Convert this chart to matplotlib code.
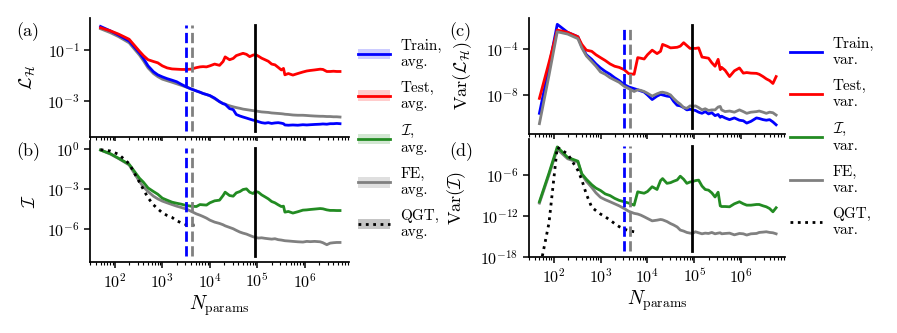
import numpy as np
import matplotlib
matplotlib.use('Agg')
import matplotlib.pyplot as plt
from matplotlib.lines import Line2D
from matplotlib.patches import Patch
from matplotlib.ticker import LogLocator, NullLocator, NullFormatter

plt.rcParams['font.family'] = 'serif'
plt.rcParams['font.serif'] = ['cmr10']
plt.rcParams['mathtext.fontset'] = 'cm'
plt.rcParams['axes.formatter.use_mathtext'] = True
plt.rcParams['font.size'] = 11

# number of parameters (shared x grid)
n_params = [50, 80, 120, 200, 330, 400, 500, 650, 800, 1000, 1260, 1600, 2000, 2500,
            3200, 4000, 5200, 6200, 7200, 8500, 1.0e4, 1.26e4, 1.6e4, 1.9e4, 2.1e4,
            2.6e4, 3.1e4, 3.6e4, 4.3e4, 5.0e4, 5.9e4, 6.9e4, 8.1e4, 9.1e4, 1.05e5,
            1.23e5, 1.45e5, 1.7e5, 2.0e5, 2.35e5, 2.75e5, 3.2e5, 3.55e5, 3.8e5, 4.5e5,
            5.6e5, 7.1e5, 9.1e5, 1.1e6, 1.3e6, 1.6e6, 2.1e6, 2.4e6, 2.9e6, 3.4e6,
            4.0e6, 4.7e6, 5.5e6]
n_qgt = n_params[:17]

# vertical markers
n_train_dash = 3200
n_fe_dash = 4300
n_black = 9.0e4

# values read as log10 exponents
# (a) loss averages
train_avg = [-0.08, -0.25, -0.42, -0.65, -1.12, -1.33, -1.62, -1.85, -1.97, -2.05, -2.12, -2.18,
             -2.24, -2.34, -2.44, -2.52, -2.60, -2.65, -2.70, -2.74, -2.78, -2.88, -3.02, -3.10,
             -3.12, -3.29, -3.33, -3.52, -3.58, -3.62, -3.66, -3.70, -3.74, -3.76, -3.80, -3.84,
             -3.86, -3.84, -3.87, -3.85, -3.84, -3.86, -3.88, -3.93, -3.94, -3.93, -3.94, -3.92,
             -3.93, -3.92, -3.91, -3.90, -3.89, -3.90, -3.88, -3.88, -3.87, -3.88]
test_avg = [-0.13, -0.25, -0.38, -0.58, -1.05, -1.22, -1.38, -1.45, -1.50, -1.62, -1.70, -1.74,
            -1.75, -1.76, -1.76, -1.75, -1.69, -1.66, -1.65, -1.66, -1.62, -1.55, -1.60, -1.45,
            -1.27, -1.38, -1.33, -1.22, -1.17, -1.13, -1.17, -1.26, -1.20, -1.18, -1.24, -1.32,
            -1.38, -1.44, -1.55, -1.58, -1.68, -1.78, -1.72, -1.97, -1.92, -1.98, -1.92, -1.86,
            -1.82, -1.80, -1.78, -1.75, -1.76, -1.84, -1.84, -1.83, -1.84, -1.84]
fe_loss_avg = [-0.17, -0.32, -0.48, -0.72, -1.20, -1.42, -1.70, -1.92, -2.04, -2.14, -2.20, -2.26,
               -2.32, -2.38, -2.45, -2.52, -2.60, -2.65, -2.70, -2.74, -2.79, -2.90, -3.02, -3.09,
               -3.12, -3.18, -3.22, -3.25, -3.28, -3.31, -3.33, -3.35, -3.37, -3.38, -3.40, -3.42,
               -3.43, -3.44, -3.46, -3.47, -3.48, -3.49, -3.50, -3.51, -3.52, -3.54, -3.55, -3.55,
               -3.56, -3.57, -3.58, -3.59, -3.59, -3.60, -3.60, -3.61, -3.61, -3.62]

# (b) I averages
info_avg = [-0.08, -0.35, -0.70, -1.15, -2.20, -2.50, -2.93, -3.20, -3.40, -3.70, -3.85, -4.00,
            -4.08, -4.15, -4.25, -4.30, -4.33, -4.18, -4.20, -4.22, -4.05, -3.90, -3.85, -3.50,
            -3.25, -3.50, -3.55, -3.30, -3.20, -3.05, -3.00, -3.25, -3.35, -3.20, -3.25, -3.45,
            -3.60, -3.75, -3.95, -4.05, -4.20, -4.33, -4.30, -4.75, -4.70, -4.82, -4.72, -4.60,
            -4.58, -4.55, -4.52, -4.48, -4.50, -4.58, -4.62, -4.62, -4.63, -4.63]
fe_info_avg = [-0.08, -0.38, -0.72, -1.20, -2.45, -2.85, -3.20, -3.55, -3.75, -3.92, -4.05, -4.18,
               -4.30, -4.40, -4.52, -4.68, -4.88, -4.98, -5.08, -5.20, -5.35, -5.50, -5.60, -5.70,
               -5.78, -5.90, -6.00, -6.12, -6.25, -6.33, -6.40, -6.50, -6.60, -6.65, -6.70, -6.68,
               -6.72, -6.75, -6.78, -6.75, -6.82, -6.85, -6.88, -6.90, -6.92, -6.95, -6.98, -7.00,
               -6.95, -6.97, -6.95, -6.98, -7.05, -7.20, -7.08, -7.05, -7.03, -7.03]
qgt_avg = [-0.05, -0.15, -0.40, -1.10, -2.50, -3.05, -3.67, -4.20, -4.50, -4.80, -5.00, -5.15,
           -5.40, -5.55, -5.70, -5.75, -5.70]

# (c) loss variances
train_var = [-9.6, -5.55, -1.85, -2.55, -2.93, -3.80, -4.50, -4.90, -5.30, -5.65, -5.95, -6.20,
             -6.50, -6.75, -7.10, -7.30, -7.45, -7.55, -7.65, -7.75, -8.00, -8.40, -8.10, -7.95,
             -8.00, -8.10, -8.15, -8.55, -8.90, -8.95, -9.10, -9.30, -9.25, -9.30, -9.35, -9.50,
             -9.60, -9.45, -9.65, -9.55, -9.80, -9.70, -9.95, -9.85, -10.0, -10.15, -10.0, -10.2,
             -10.25, -10.45, -10.3, -10.0, -10.05, -10.15, -10.2, -10.15, -10.35, -10.6]
test_var = [-8.3, -5.17, -2.35, -2.55, -2.93, -3.60, -4.10, -4.20, -4.50, -4.75, -5.00, -5.30,
            -5.50, -5.60, -5.80, -6.15, -6.20, -4.75, -4.80, -4.87, -4.50, -4.10, -4.40, -4.20,
            -3.60, -3.75, -3.90, -3.88, -3.85, -3.75, -3.45, -3.70, -3.95, -3.93, -3.95, -3.90,
            -4.70, -4.75, -4.80, -5.20, -5.50, -4.90, -5.80, -5.60, -5.85, -6.40, -5.90, -5.65,
            -6.10, -6.05, -6.10, -6.12, -6.20, -6.40, -6.60, -6.75, -7.00, -6.40]
fe_loss_var = [-10.5, -6.29, -2.50, -2.70, -3.10, -3.90, -4.60, -5.10, -5.50, -6.00, -6.20, -6.50,
               -6.70, -6.90, -7.25, -7.45, -7.70, -7.55, -7.60, -7.70, -7.85, -8.10, -7.90, -7.78,
               -7.76, -7.85, -8.00, -8.30, -8.60, -8.80, -9.10, -9.16, -8.95, -9.00, -8.95, -9.10,
               -9.30, -9.20, -9.35, -9.30, -9.30, -9.05, -9.00, -9.30, -9.45, -9.40, -9.50, -9.30,
               -9.45, -9.60, -9.50, -9.45, -9.40, -9.50, -9.60, -9.50, -9.55, -9.75]

# (d) I variances
info_var = [-9.9, -5.7, -1.86, -3.40, -3.95, -5.80, -6.60, -7.40, -7.90, -8.25, -8.75, -9.00,
            -9.40, -9.70, -9.90, -10.1, -10.4, -8.44, -8.55, -8.65, -8.40, -7.70, -8.10, -6.80,
            -6.50, -7.20, -7.10, -6.90, -6.70, -6.15, -6.60, -7.20, -7.00, -6.95, -6.80, -6.73,
            -7.60, -8.10, -8.20, -8.60, -9.20, -8.50, -10.5, -10.6, -10.6, -10.64, -10.2, -9.90,
            -10.2, -10.4, -10.4, -10.3, -10.3, -10.5, -10.64, -10.9, -11.37, -10.78]
fe_info_var = [-10.1, -5.94, -2.20, -3.60, -4.10, -5.90, -6.90, -7.80, -8.60, -9.25, -9.60, -9.90,
               -10.2, -10.5, -10.9, -11.3, -11.6, -11.7, -11.86, -12.1, -12.35, -12.7, -12.6, -12.5,
               -12.55, -12.8, -13.1, -13.3, -13.6, -14.05, -14.2, -14.4, -14.5, -14.55, -14.3, -14.45,
               -14.6, -14.5, -14.55, -14.4, -14.6, -14.5, -14.45, -14.6, -14.55, -14.5, -14.75, -14.55,
               -14.6, -14.78, -14.6, -14.55, -14.4, -14.35, -14.3, -14.4, -14.45, -14.6]
qgt_var = [-20.0, -13.0, -1.9, -2.9, -5.3, -6.7, -8.8, -10.7, -11.2, -11.7, -12.1, -12.6,
           -13.1, -13.55, -13.9, -14.15, -14.3]

c_train, c_test, c_info, c_fe = 'blue', 'red', 'forestgreen', 'grey'
lw = 2

fig = plt.figure(figsize=(8.97, 3.33), dpi=100)
W, H = 897., 333.
ax_a = fig.add_axes([90/W, 1-137/H, 259/W, 119/H])
ax_b = fig.add_axes([90/W, 1-262/H, 259/W, 121/H])
ax_c = fig.add_axes([529/W, 1-134/H, 256/W, 116/H])
ax_d = fig.add_axes([529/W, 1-257/H, 256/W, 118/H])

x = np.array(n_params)
xq = np.array(n_qgt)
p = lambda v: np.power(10.0, np.array(v))

ax_a.plot(x, p(fe_loss_avg), color=c_fe, lw=lw)
ax_a.plot(x, p(train_avg), color=c_train, lw=lw)
ax_a.plot(x, p(test_avg), color=c_test, lw=lw)

ax_b.plot(x, p(fe_info_avg), color=c_fe, lw=lw)
ax_b.plot(x, p(info_avg), color=c_info, lw=lw)
ax_b.plot(xq, p(qgt_avg), color='black', lw=lw, ls=':')

ax_c.plot(x, p(train_var), color=c_train, lw=lw)
ax_c.plot(x, p(test_var), color=c_test, lw=lw)
ax_c.plot(x, p(fe_loss_var), color=c_fe, lw=lw)

ax_d.plot(x, p(fe_info_var), color=c_fe, lw=lw)
ax_d.plot(x, p(info_var), color=c_info, lw=lw)
ax_d.plot(xq, p(qgt_var), color='black', lw=lw, ls=':')

ylims = [(10**-4.4, 10**0.25), (10**-8.5, 10**0.6), (10**-11.4, 10**-1.3), (1e-18, 10**-0.7)]
yticks = [[1e-3, 1e-1], [1e-6, 1e-3, 1e0], [1e-8, 1e-4], [1e-18, 1e-12, 1e-6]]
axes = [ax_a, ax_b, ax_c, ax_d]
for i in range(4):
    ax = axes[i]
    ax.axvline(n_train_dash, ymin=0.05, ymax=0.94, color=c_train, lw=lw, ls='--')
    ax.axvline(n_fe_dash, ymin=0.05, ymax=0.94, color=c_fe, lw=lw, ls='--')
    ax.axvline(n_black, ymin=0.05, ymax=0.94, color='black', lw=lw)
    ax.set_xscale('log')
    ax.set_yscale('log')
    ax.set_xlim(30, 8.5e6)
    ax.set_ylim(*ylims[i])
    ax.set_yticks(yticks[i])
    ax.yaxis.set_minor_locator(NullLocator())
    ax.xaxis.set_major_locator(LogLocator(base=10, numticks=12))
    ax.xaxis.set_minor_locator(LogLocator(base=10, subs=np.arange(2, 10), numticks=12))
    ax.xaxis.set_minor_formatter(NullFormatter())
    ax.spines['top'].set_visible(False)
    ax.spines['right'].set_visible(False)
    for s in ['left', 'bottom']:
        ax.spines[s].set_linewidth(1.25)
    ax.tick_params(which='major', direction='out', length=4, width=1.1, labelsize=11.5)
    ax.tick_params(which='minor', direction='out', length=2.5, width=0.8)
    if i in (0, 2):
        ax.tick_params(axis='x', labelbottom=False)
    else:
        ax.set_xlabel(r'$N_\mathrm{params}$', fontsize=14, labelpad=2)

ax_a.set_ylabel(r'$\mathcal{L}_\mathcal{H}$', fontsize=13)
ax_b.set_ylabel(r'$\mathcal{I}$', fontsize=13)
ax_c.set_ylabel(r'$\mathrm{Var}(\mathcal{L}_\mathcal{H})$', fontsize=13)
ax_d.set_ylabel(r'$\mathrm{Var}(\mathcal{I})$', fontsize=13)
ax_a.yaxis.set_label_coords(-0.2, 0.5)
ax_b.yaxis.set_label_coords(-0.2, 0.5)
ax_c.yaxis.set_label_coords(-0.215, 0.5)
ax_d.yaxis.set_label_coords(-0.238, 0.5)

fig.text(16/W, 1-32/H, '(a)', fontsize=13, va='center')
fig.text(16/W, 1-152/H, '(b)', fontsize=13, va='center')
fig.text(449/W, 1-32/H, '(c)', fontsize=13, va='center')
fig.text(449/W, 1-152/H, '(d)', fontsize=13, va='center')

# legends
names = ['Train', 'Test', r'$\mathcal{I}$', 'FE', 'QGT']
colors = [c_train, c_test, c_info, c_fe, 'black']
styles = ['-', '-', '-', '-', ':']
band_alpha = [0.2, 0.2, 0.2, 0.25, 0.45]
band_color = [c_train, c_test, c_info, c_fe, c_fe]

avg_handles = []
var_handles = []
for i in range(5):
    ln = Line2D([], [], color=colors[i], lw=lw, ls=styles[i])
    band = Patch(facecolor=band_color[i], alpha=band_alpha[i], lw=0)
    avg_handles.append((band, ln))
    var_handles.append(ln)

fig.legend(avg_handles, [n + ',\navg.' for n in names], loc='center left',
           bbox_to_anchor=(344/W, 1-139/H), frameon=False, handlelength=2.1,
           handletextpad=0.7, labelspacing=0.78, fontsize=11)
fig.legend(var_handles, [n + ',\nvar.' for n in names], loc='center left',
           bbox_to_anchor=(776/W, 1-137/H), frameon=False, handlelength=2.1,
           handletextpad=0.7, labelspacing=0.78, fontsize=11)

plt.savefig('out.png', dpi=100)
